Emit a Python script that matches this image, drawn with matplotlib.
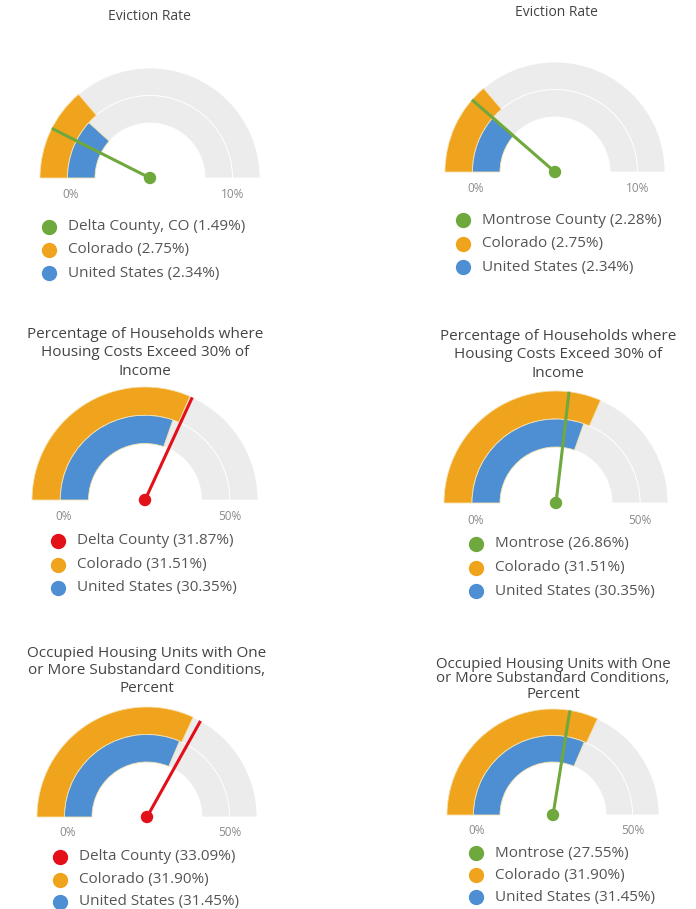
import numpy as np
import matplotlib
matplotlib.use("Agg")
import matplotlib.pyplot as plt
from matplotlib.patches import Wedge, Circle

plt.rcParams['font.family'] = ['Open Sans', 'DejaVu Sans']

# chart data
titles = [
    "Eviction Rate",
    "Eviction Rate",
    "Percentage of Households where\nHousing Costs Exceed 30% of\nIncome",
    "Percentage of Households where\nHousing Costs Exceed 30% of\nIncome",
    "Occupied Housing Units with One\nor More Substandard Conditions,\nPercent",
    "Occupied Housing Units with One\nor More Substandard Conditions,\nPercent",
]
gauge_max = [10, 10, 50, 50, 50, 50]
max_labels = ["10%", "10%", "50%", "50%", "50%", "50%"]
county_names = ["Delta County, CO", "Montrose County", "Delta County", "Montrose", "Delta County", "Montrose"]
county_values = [1.49, 2.28, 31.87, 26.86, 33.09, 27.55]
colorado_values = [2.75, 2.75, 31.51, 31.51, 31.90, 31.90]
us_values = [2.34, 2.34, 30.35, 30.35, 31.45, 31.45]

GREEN = "#6fa83c"
RED = "#e3101a"
ORANGE = "#f0a31c"
BLUE = "#4d8fd2"
GRAY = "#ececec"
county_colors = [GREEN, GREEN, RED, GREEN, RED, GREEN]

# layout in pixels (x, y from top)
centers = [(150, 178), (555, 172), (145, 500), (556, 503), (147, 817), (553, 815)]
radii = [110, 110, 113, 112, 110, 106]
title_x = [149, 556, 145, 558, 147, 553]
title_y = [17, 12, 353, 355, 671, 679]
title_spacing = [1.2, 1.2, 1.3, 1.3, 1.25, 1.0]
title_size = [10, 10, 11, 11, 11, 10.8]
tick_y = [195, 188, 517, 520, 832, 830]
legend_x = [49, 463, 58, 476, 60, 476]
legend_y = [227, 220, 541, 544, 857, 853]
legend_step = [23, 23.5, 23.5, 23.5, 22.5, 22]

W, H = 696, 909
fig = plt.figure(figsize=(W / 100, H / 100), dpi=100)
ax = fig.add_axes([0, 0, 1, 1])
ax.set_xlim(0, W)
ax.set_ylim(H, 0)
ax.set_aspect('equal')
ax.axis('off')


def angle(v, vmax):
    # y axis is flipped, so the upper half is 180..360
    return 180 + min(v / vmax, 1.0) * 180


for i in range(6):
    cx, cy = centers[i]
    R = radii[i]
    r_mid = 0.75 * R
    r_in = 0.5 * R
    # background
    ax.add_patch(Wedge((cx, cy), R, 180, 360, width=R - r_mid, facecolor=GRAY, edgecolor="white", lw=0.6))
    ax.add_patch(Wedge((cx, cy), r_mid, 180, 360, width=r_mid - r_in, facecolor=GRAY, edgecolor="white", lw=0.6))
    # state and national bands
    ax.add_patch(Wedge((cx, cy), R, 180, angle(colorado_values[i], gauge_max[i]),
                       width=R - r_mid, facecolor=ORANGE, edgecolor="#f6e3b0", lw=0.6))
    ax.add_patch(Wedge((cx, cy), r_mid, 180, angle(us_values[i], gauge_max[i]),
                       width=r_mid - r_in, facecolor=BLUE, edgecolor="#f6e3b0", lw=0.6))
    # needle
    a = np.radians(angle(county_values[i], gauge_max[i]))
    ax.plot([cx, cx + R * np.cos(a)], [cy, cy + R * np.sin(a)], color=county_colors[i], lw=2.2,
            solid_capstyle='butt')
    ax.add_patch(Circle((cx, cy), 5.5, color=county_colors[i]))
    # tick labels
    ax.text(cx - 0.72 * R, tick_y[i], "0%", fontsize=8.5, color="#8a8a8a", ha='center', va='center')
    ax.text(cx + 0.75 * R, tick_y[i], max_labels[i], fontsize=8.5, color="#8a8a8a", ha='center', va='center')
    # title
    ax.text(title_x[i], title_y[i], titles[i], fontsize=title_size[i], color="#444444", ha='center',
            va='center', linespacing=title_spacing[i])
    # legend
    entries = [
        (county_colors[i], "%s (%.2f%%)" % (county_names[i], county_values[i])),
        (ORANGE, "Colorado (%.2f%%)" % colorado_values[i]),
        (BLUE, "United States (%.2f%%)" % us_values[i]),
    ]
    for k, (c, label) in enumerate(entries):
        y = legend_y[i] + k * legend_step[i]
        ax.plot(legend_x[i], y, 'o', color=c, markersize=10)
        ax.text(legend_x[i] + 19, y, label, fontsize=11, color="#555555", ha='left', va='center')

fig.savefig("out.png", dpi=100)
